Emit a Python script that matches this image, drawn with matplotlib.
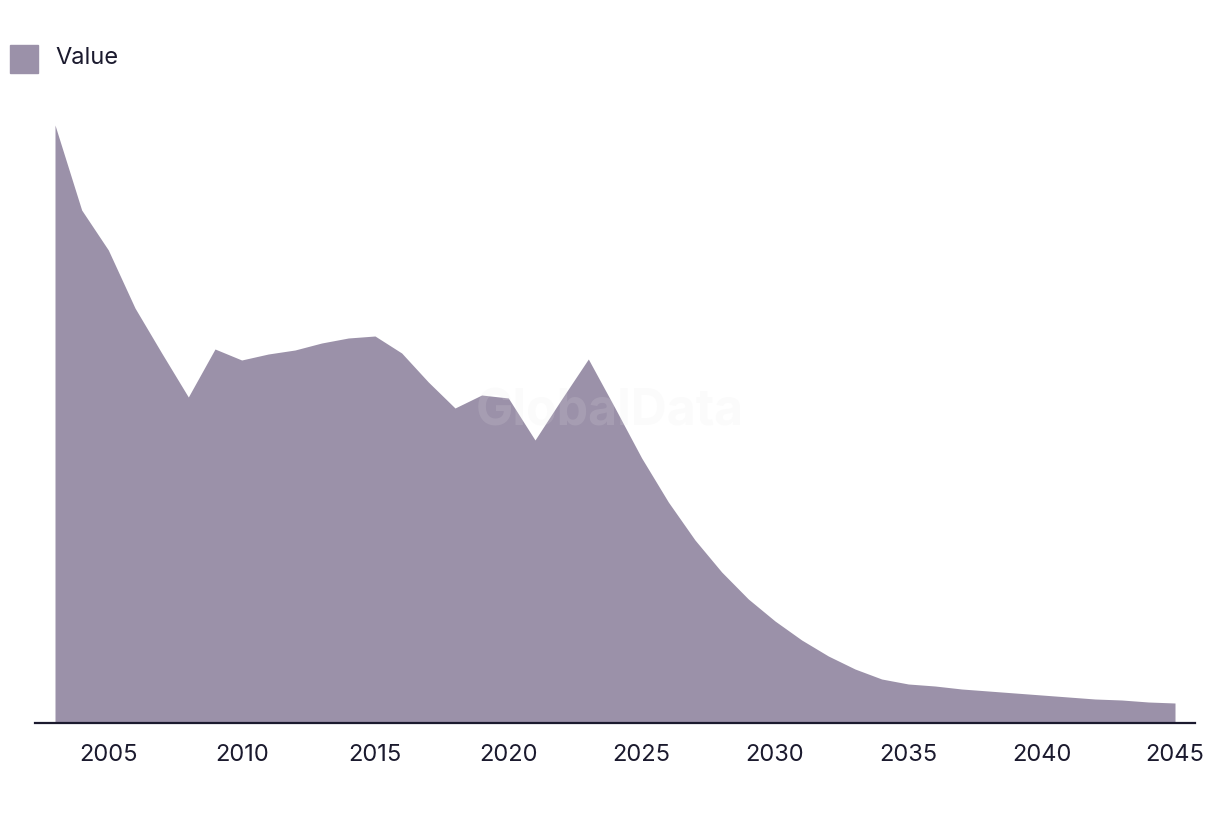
import matplotlib.pyplot as plt
from matplotlib.patches import Rectangle

years = list(range(2003, 2046))
values = [598, 513, 473, 415, 370, 326, 374, 363, 369, 373,
          380, 385, 387, 370, 341, 315, 328, 325, 283, 324,
          364, 315, 265, 221, 183, 151, 124, 102, 83, 67,
          54, 44, 39, 37, 34, 32, 30, 28, 26, 24,
          23, 21, 20]
tick_years = [2005, 2010, 2015, 2020, 2025, 2030, 2035, 2040, 2045]

fill_col = '#9b91a9'
text_col = '#1b1a2e'

plt.rcParams['font.family'] = ['Inter', 'DejaVu Sans']

fig = plt.figure(figsize=(12.2, 8.14), dpi=100)
ax = fig.add_axes([35 / 1220, 91 / 814, 1160 / 1220, 623 / 814])

ax.fill_between(years, values, 0, color=fill_col, linewidth=0)
ax.set_xlim(2003 - 20 / 26.667, 2045 + 20 / 26.667)
ax.set_ylim(0, 623)

for s in ['top', 'right', 'left']:
    ax.spines[s].set_visible(False)
ax.spines['bottom'].set_color(text_col)
ax.spines['bottom'].set_linewidth(1.6)
ax.set_yticks([])
ax.set_xticks(tick_years)
ax.set_xticklabels([str(y) for y in tick_years])
ax.tick_params(axis='x', length=0, pad=15, labelsize=17, labelcolor=text_col)

# watermark
fig.text(610 / 1220, 1 - 412 / 814, 'GlobalData', ha='center', va='center',
         fontsize=36, fontweight='bold', color='#e6e6e6', alpha=0.15, zorder=5)

# legend
fig.patches.append(Rectangle((10 / 1220, 1 - 73 / 814), 28 / 1220, 28 / 814,
                             transform=fig.transFigure, color=fill_col))
fig.text(55 / 1220, 1 - 58 / 814, 'Value', ha='left', va='center', fontsize=17, color=text_col)

fig.savefig('out.png', dpi=100)
